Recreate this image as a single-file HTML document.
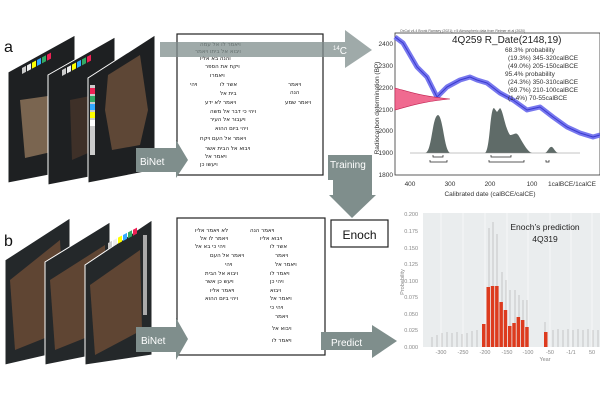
<!DOCTYPE html>
<html><head><meta charset="utf-8"><style>
html,body{margin:0;padding:0;background:#fff;}
svg{display:block;font-family:"Liberation Sans",sans-serif;}
.h{font-family:"DejaVu Sans",sans-serif;font-size:5.5px;fill:#111;}
.ax{font-size:6.5px;fill:#333;}
.bx{font-size:5.5px;fill:#888;}
</style></head><body>
<svg width="600" height="400" viewBox="0 0 600 400" xmlns="http://www.w3.org/2000/svg">
<defs>
<g id="cc"><rect x="0" y="0" width="4" height="6" fill="#ccc"/><rect x="5" y="0" width="4" height="6" fill="#eee"/><rect x="10" y="0" width="4" height="6" fill="#ff0"/><rect x="15" y="0" width="4" height="6" fill="#3af"/><rect x="20" y="0" width="4" height="6" fill="#3a6"/><rect x="25" y="0" width="4" height="6" fill="#e25"/></g>
</defs>
<text x="4" y="52" font-size="16" fill="#111">a</text>
<text x="4" y="246" font-size="16" fill="#111">b</text>
<!-- top panels -->
<polygon points="8,72 75,35 75,170 8,183" fill="#1e2022" stroke="#fff" stroke-width="1"/>
<polygon points="20,100 55,95 60,150 25,158" fill="#7a6550"/>
<use href="#cc" transform="translate(22,68) skewY(-28)"/>
<polygon points="48,75 115,37 115,172 48,185" fill="#1e2022" stroke="#fff" stroke-width="1"/>
<polygon points="70,100 95,95 95,150 72,160" fill="#3e3028"/>
<use href="#cc" transform="translate(62,70) skewY(-28)"/>
<polygon points="88,78 155,35 155,170 88,183" fill="#1e2022" stroke="#fff" stroke-width="1"/>
<polygon points="108,75 140,55 148,110 140,145 112,150 105,110" fill="#5e4736"/>
<rect x="90" y="85" width="5" height="70" fill="#ccc"/>
<rect x="90" y="88" width="5" height="6" fill="#e25"/><rect x="90" y="96" width="5" height="6" fill="#3a6"/><rect x="90" y="104" width="5" height="6" fill="#3af"/><rect x="90" y="112" width="5" height="6" fill="#ff0"/><rect x="90" y="120" width="5" height="6" fill="#fff"/>
<!-- bottom panels -->
<polygon points="5,260 70,218 70,350 5,365" fill="#24282a" stroke="#fff"/>
<polygon points="10,280 60,240 65,330 15,350" fill="#6a4a35" opacity=".85"/>
<polygon points="45,262 110,222 110,352 45,365" fill="#24282a" stroke="#fff"/>
<polygon points="50,280 105,245 105,330 55,350" fill="#6a4a35" opacity=".85"/>
<polygon points="85,265 152,220 152,355 85,365" fill="#24282a" stroke="#fff"/>
<polygon points="90,285 140,250 142,330 95,355" fill="#6a4a35" opacity=".85"/>
<use href="#cc" transform="translate(108,243) skewY(-28)"/>
<rect x="143" y="235" width="4" height="80" fill="#aaa"/>
<!-- top page box -->
<rect x="177" y="34" width="146" height="141" fill="#fff" stroke="#222" stroke-width="1.2"/>
<g class="h">
<text x="200" y="46">ויאמר לו אל עמה</text><text x="195" y="53">ויבוא אל ביתו ויאמר</text><text x="200" y="60">והנה בא אליו</text>
<text x="205" y="68">ויקח את הספר</text><text x="210" y="77">ויאמרו</text>
<text x="190" y="86">ויהי</text><text x="220" y="86">אשר לו</text><text x="288" y="86">ויאמר</text>
<text x="290" y="94">הנה</text><text x="220" y="95">בית אל</text>
<text x="205" y="104">ויאמר לא ידע</text><text x="285" y="104">ויאמר שמע</text>
<text x="210" y="113">ויהי כי דבר אל משה</text><text x="210" y="121">ויעבור אל העיר</text>
<text x="215" y="130">ויהי ביום ההוא</text><text x="200" y="140">ויאמר אל העם ויקח</text>
<text x="205" y="150">ויבוא אל הבית אשר</text><text x="205" y="158">ויאמר אל</text><text x="200" y="166">ויעשו כן</text>
</g>
<!-- 14C arrow -->
<polygon points="160,42 345,42 345,30 372,50 345,68 345,57 160,57" fill="#7f8e8c" opacity=".75"/>
<text x="333" y="54" font-size="10" fill="#fff"><tspan font-size="6" dy="-4">14</tspan><tspan dy="4">C</tspan></text>
<!-- BiNet top -->
<polygon points="136,148 176,148 176,140 188,160 176,178 176,172 136,172" fill="#7f8e8c"/>
<text x="140" y="165" font-size="10" fill="#fff">BiNet</text>
<!-- Training -->
<polygon points="328,155 372,155 372,195 376,195 352,218 329,195 333,195 333,180 328,180" fill="#7f8e8c"/>
<text x="330" y="168" font-size="10" fill="#fff">Training</text>
<rect x="331" y="220" width="57" height="27" fill="#fff" stroke="#222" stroke-width="1.2"/>
<text x="359.5" y="239" font-size="12" text-anchor="middle" fill="#111">Enoch</text>
<!-- bottom page box -->
<rect x="177" y="218" width="148" height="137" fill="#fff" stroke="#222" stroke-width="1.2"/>
<g class="h">
<text x="195" y="232">לא ויאמר אליו</text><text x="250" y="232">ויאמר הנה</text>
<text x="200" y="240">ויאמר לו אל</text><text x="260" y="240">ויבוא אליו</text>
<text x="195" y="248">ויהי כי בא אל</text><text x="270" y="248">אשר לו</text>
<text x="210" y="257">ויאמר אל העם</text><text x="275" y="257">ויאמר</text>
<text x="225" y="266">ויהי</text><text x="275" y="266">ויאמר אל</text>
<text x="205" y="275">ויבוא אל הבית</text><text x="270" y="275">ויאמר לו</text>
<text x="205" y="283">ויעש כן אשר</text><text x="270" y="283">ויהי כן</text>
<text x="210" y="292">ויאמר אליו</text><text x="270" y="292">ויבוא</text>
<text x="205" y="300">ויהי ביום ההוא</text><text x="270" y="300">ויאמר אל</text>
<text x="270" y="309">ויהי כי</text><text x="275" y="318">ויאמר</text>
<text x="272" y="330">ויבוא אל</text><text x="272" y="342">ויאמר לו</text>
</g>
<polygon points="136,327 176,327 176,318 188,339 176,360 176,352 136,352" fill="#7f8e8c"/>
<text x="141" y="344" font-size="10" fill="#fff">BiNet</text>
<polygon points="321,332 372,332 372,325 397,341 372,358 372,350 321,350" fill="#7f8e8c"/>
<text x="331" y="346" font-size="10" fill="#fff">Predict</text>
<!-- top chart -->
<text x="400" y="32" font-size="3.5" fill="#555">OxCal v4.4 Bronk Ramsey (2021); r:5 Atmospheric data from Reimer et al (2020)</text>
<rect x="395" y="33" width="205" height="142" fill="#fff" stroke="#333" stroke-width="0.8"/>
<g class="ax" text-anchor="end">
<text x="393" y="46">2400</text><text x="393" y="68">2300</text><text x="393" y="90">2200</text><text x="393" y="112">2100</text><text x="393" y="133">2000</text><text x="393" y="155">1900</text><text x="393" y="177">1800</text>
</g>
<g class="ax" text-anchor="middle">
<text x="410" y="186">400</text><text x="450" y="186">300</text><text x="490" y="186">200</text><text x="532" y="186">100</text><text x="572" y="186">1calBCE/1calCE</text>
<text x="490" y="196">Calibrated date (calBCE/calCE)</text>
</g>
<text transform="translate(379,108) rotate(-90)" class="ax" text-anchor="middle" font-size="5.5">Radiocarbon determination (BP)</text>
<path d="M395,37 L403,43 L417,67 L427,77 L437,97 L447,87 L460,80 L470,77 L477,80 L487,83 L500,93 L513,100 L527,110 L540,107 L553,117 L567,127 L580,133 L593,137 L600,135" fill="none" stroke="#7777ee" stroke-width="5" stroke-linejoin="round"/>
<path d="M395,37 L403,43 L417,67 L427,77 L437,97 L447,87 L460,80 L470,77 L477,80 L487,83 L500,93 L513,100 L527,110 L540,107 L553,117 L567,127 L580,133 L593,137 L600,135" fill="none" stroke="#3a3ad0" stroke-width="1" stroke-linejoin="round"/>
<path d="M395,88 C410,92 420,96 450,99 C420,102 410,106 395,110 Z" fill="#f06a90" stroke="#c02050" stroke-width="0.6"/>
<path d="M425,153 C432,153 432,116 438,115 C443,116 444,150 450,153 Z M485,153 C490,150 490,108 494,108 L497,112 L500,108 C503,110 505,128 510,135 C515,135 516,130 520,138 C524,145 528,152 532,153 Z M545,153 C548,152 549,146 552,147 C554,148 555,152 558,153 Z" fill="#5f6b68"/>
<line x1="410" y1="153" x2="580" y2="153" stroke="#888" stroke-width="0.5"/>
<path d="M433,155 v2 h10 v-2 M430,160 v2 h17 v-2 M491,155 v2 h20 v-2 M489,160 v2 h35 v-2 M546,160 v2 h3 v-2" fill="none" stroke="#222" stroke-width="0.7"/>
<text x="452" y="43" font-size="10" fill="#222">4Q259 R_Date(2148,19)</text>
<g font-size="6.5" fill="#333">
<text x="505" y="52">68.3% probability</text><text x="508" y="60">(19.3%) 345-320calBCE</text><text x="508" y="68">(49.0%) 205-150calBCE</text>
<text x="505" y="76">95.4% probability</text><text x="508" y="84">(24.3%) 350-310calBCE</text><text x="508" y="92">(69.7%) 210-100calBCE</text><text x="508" y="100">(1.4%) 70-55calBCE</text>
</g>
<!-- bottom chart -->
<rect x="423" y="213" width="177" height="134" fill="#eaedee"/>
<g stroke="#fff" stroke-width="0.6">
<line x1="441" y1="213" x2="441" y2="347"/><line x1="463" y1="213" x2="463" y2="347"/><line x1="485" y1="213" x2="485" y2="347"/><line x1="507" y1="213" x2="507" y2="347"/><line x1="528" y1="213" x2="528" y2="347"/><line x1="550" y1="213" x2="550" y2="347"/><line x1="571" y1="213" x2="571" y2="347"/><line x1="592" y1="213" x2="592" y2="347"/>
</g>
<g stroke="#aaa" stroke-width="0.6">
<line x1="432" y1="347" x2="432" y2="337"/><line x1="437" y1="347" x2="437" y2="335"/><line x1="442" y1="347" x2="442" y2="333"/><line x1="447" y1="347" x2="447" y2="332"/><line x1="452" y1="347" x2="452" y2="333"/><line x1="457" y1="347" x2="457" y2="332"/><line x1="462" y1="347" x2="462" y2="334"/><line x1="467" y1="347" x2="467" y2="333"/><line x1="472" y1="347" x2="472" y2="331"/><line x1="477" y1="347" x2="477" y2="330"/>
<line x1="489" y1="340" x2="489" y2="228"/><line x1="493" y1="340" x2="493" y2="222"/><line x1="497" y1="340" x2="497" y2="234"/><line x1="502" y1="330" x2="502" y2="272"/><line x1="506" y1="330" x2="506" y2="280"/><line x1="510" y1="330" x2="510" y2="290"/><line x1="515" y1="330" x2="515" y2="290"/><line x1="519" y1="330" x2="519" y2="295"/><line x1="523" y1="330" x2="523" y2="300"/><line x1="527" y1="330" x2="527" y2="300"/>
<line x1="545" y1="347" x2="545" y2="322"/><line x1="553" y1="347" x2="553" y2="330"/><line x1="558" y1="347" x2="558" y2="329"/><line x1="563" y1="347" x2="563" y2="330"/><line x1="568" y1="347" x2="568" y2="329"/><line x1="573" y1="347" x2="573" y2="330"/><line x1="578" y1="347" x2="578" y2="329"/><line x1="583" y1="347" x2="583" y2="330"/><line x1="588" y1="347" x2="588" y2="329"/><line x1="593" y1="347" x2="593" y2="330"/><line x1="598" y1="347" x2="598" y2="330"/>
</g>
<g fill="#dd3b1e">
<rect x="482" y="324" width="3.5" height="23"/><rect x="486.5" y="287" width="3.5" height="60"/><rect x="490.8" y="286" width="3.5" height="61"/><rect x="495.1" y="286" width="3.5" height="61"/><rect x="499.4" y="302" width="3.5" height="45"/><rect x="503.7" y="310" width="3.5" height="37"/><rect x="508" y="326" width="3.5" height="21"/><rect x="512.3" y="323" width="3.5" height="24"/><rect x="516.6" y="317" width="3.5" height="30"/><rect x="520.9" y="320" width="3.5" height="27"/><rect x="525.2" y="327" width="3.5" height="20"/><rect x="544" y="332" width="3.5" height="15"/>
</g>
<g class="bx" text-anchor="end">
<text x="418" y="216">0.200</text><text x="418" y="233">0.175</text><text x="418" y="250">0.150</text><text x="418" y="266">0.125</text><text x="418" y="283">0.100</text><text x="418" y="299">0.075</text><text x="418" y="316">0.050</text><text x="418" y="332">0.025</text><text x="418" y="349">0.000</text>
</g>
<g class="bx" text-anchor="middle">
<text x="441" y="354">-300</text><text x="463" y="354">-250</text><text x="485" y="354">-200</text><text x="507" y="354">-150</text><text x="528" y="354">-100</text><text x="550" y="354">-50</text><text x="571" y="354">-1/1</text><text x="592" y="354">50</text>
<text x="545" y="361">Year</text>
</g>
<text transform="translate(404,282) rotate(-90)" class="bx" text-anchor="middle" font-size="6">Probability</text>
<text x="545" y="230" font-size="8.5" text-anchor="middle" fill="#222">Enoch’s prediction</text>
<text x="545" y="242" font-size="8.5" text-anchor="middle" fill="#222">4Q319</text>
</svg>
</body></html>
